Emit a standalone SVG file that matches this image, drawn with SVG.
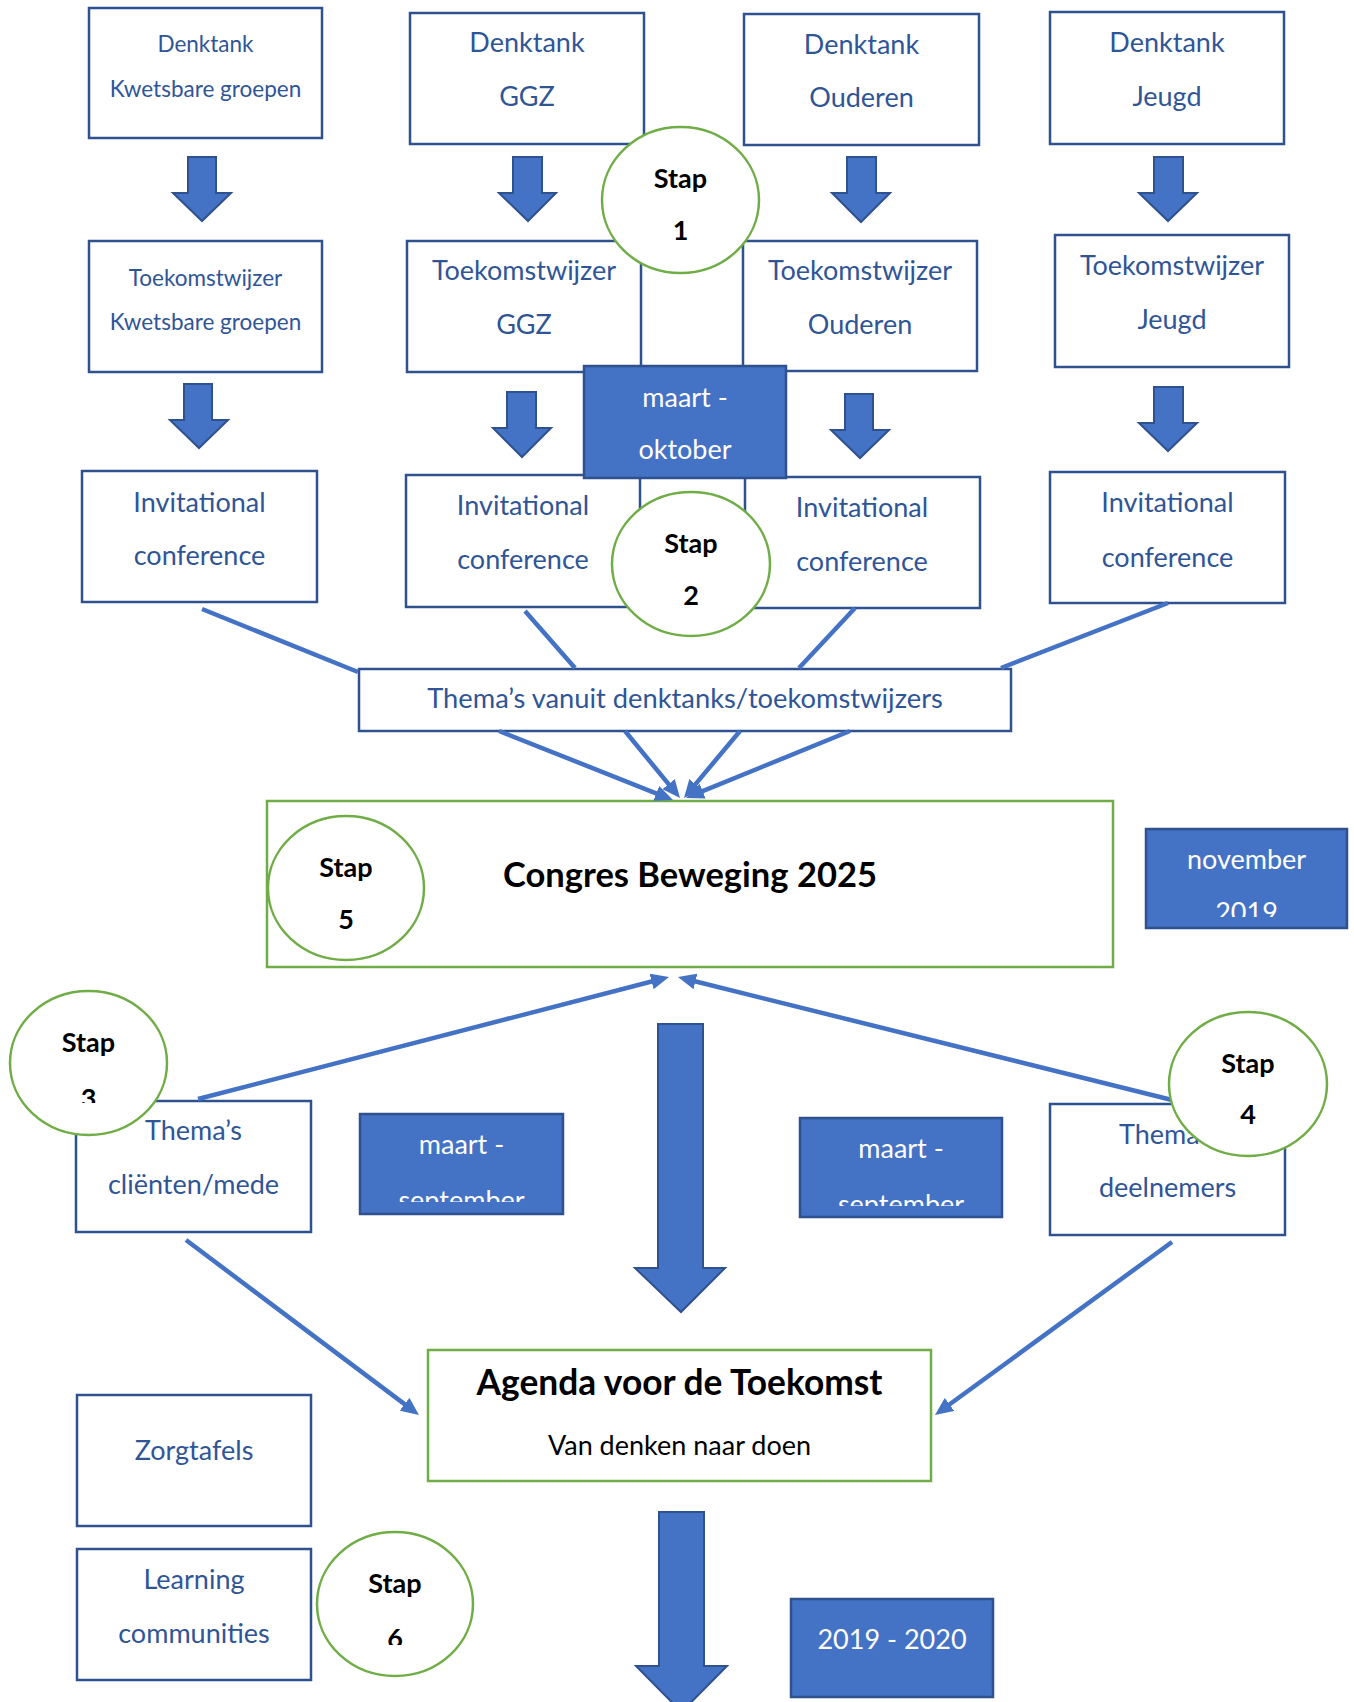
<svg xmlns="http://www.w3.org/2000/svg" width="1354" height="1702" viewBox="0 0 1354 1702">
<defs>
<style>
.box{fill:#fff;stroke:#2F528F;stroke-width:2.5}
.gbox{fill:#fff;stroke:#70AD47;stroke-width:2.5}
.date{fill:#4472C4;stroke:#2F528F;stroke-width:2.5}
.stap{fill:#fff;stroke:#70AD47;stroke-width:2.5}
.blk{fill:#4472C4;stroke:#2F528F;stroke-width:2}
.ln{stroke:#4472C4;stroke-width:4.5;fill:none}
.ar{marker-end:url(#ah)}
text{font-family:Lato,"Liberation Sans",sans-serif;text-anchor:middle}
.t{fill:#2F5597;font-size:27px}
.ts{fill:#2F5597;font-size:22.5px}
.tw{fill:#fff;font-size:27px}
.tb{fill:#000;font-size:27px;font-weight:bold}
.tB{fill:#000;font-size:34.5px;font-weight:bold}
.tk{fill:#000;font-size:27px}
</style>
<marker id="ah" markerUnits="userSpaceOnUse" markerWidth="18" markerHeight="16" refX="12" refY="8" orient="auto"><path d="M0,0 L18,8 L0,16 z" fill="#4472C4"/></marker>
<clipPath id="cNov"><rect x="1146" y="829" width="201" height="88"/></clipPath>
<clipPath id="cSepL"><rect x="360" y="1114" width="203" height="88"/></clipPath>
<clipPath id="cSepR"><rect x="800" y="1118" width="202" height="88"/></clipPath>
<clipPath id="c3"><rect x="9" y="990" width="160" height="113"/></clipPath>
<clipPath id="c6"><rect x="316" y="1530" width="160" height="115"/></clipPath>
</defs>

<g id="denktank-kwetsbaar"><rect class="box" x="89" y="8" width="233" height="130"/><text class="ts" x="205.5" y="52">Denktank</text><text class="ts" x="205.5" y="97">Kwetsbare groepen</text></g>
<g id="denktank-ggz"><rect class="box" x="410" y="13" width="234" height="131"/><text class="t" x="527" y="52">Denktank</text><text class="t" x="527" y="106">GGZ</text></g>
<g id="denktank-ouderen"><rect class="box" x="744" y="14" width="235" height="131"/><text class="t" x="861.5" y="54">Denktank</text><text class="t" x="861.5" y="107">Ouderen</text></g>
<g id="denktank-jeugd"><rect class="box" x="1050" y="12" width="234" height="132"/><text class="t" x="1167" y="52">Denktank</text><text class="t" x="1167" y="106">Jeugd</text></g>

<g id="toekomst-kwetsbaar"><rect class="box" x="89" y="241" width="233" height="131"/><text class="ts" x="205.5" y="286">Toekomstwijzer</text><text class="ts" x="205.5" y="330">Kwetsbare groepen</text></g>
<g id="toekomst-ggz"><rect class="box" x="407" y="241" width="234" height="131"/><text class="t" x="524" y="280">Toekomstwijzer</text><text class="t" x="524" y="334">GGZ</text></g>
<g id="toekomst-ouderen"><rect class="box" x="743" y="241" width="234" height="130"/><text class="t" x="860" y="280">Toekomstwijzer</text><text class="t" x="860" y="334">Ouderen</text></g>
<g id="toekomst-jeugd"><rect class="box" x="1055" y="235" width="234" height="132"/><text class="t" x="1172" y="275">Toekomstwijzer</text><text class="t" x="1172" y="329">Jeugd</text></g>

<g id="invitational-kwetsbaar"><rect class="box" x="82" y="471" width="235" height="131"/><text class="t" x="199.5" y="512">Invitational</text><text class="t" x="199.5" y="565">conference</text></g>
<g id="invitational-ggz"><rect class="box" x="406" y="475" width="234" height="132"/><text class="t" x="523" y="515">Invitational</text><text class="t" x="523" y="569">conference</text></g>
<g id="invitational-ouderen"><rect class="box" x="745" y="477" width="235" height="131"/><text class="t" x="862" y="517">Invitational</text><text class="t" x="862" y="571">conference</text></g>
<g id="invitational-jeugd"><rect class="box" x="1050" y="472" width="235" height="131"/><text class="t" x="1167.5" y="512">Invitational</text><text class="t" x="1167.5" y="567">conference</text></g>

<g id="themas-vanuit"><rect class="box" x="359" y="669" width="652" height="62"/><text class="t" x="685" y="708" style="font-size:27.3px">Thema’s vanuit denktanks/toekomstwijzers</text></g>

<g id="congres"><rect class="gbox" x="267" y="801" width="846" height="166"/><text class="tB" x="690" y="887">Congres Beweging 2025</text></g>

<g id="themas-clienten"><rect class="box" x="76" y="1101" width="235" height="131"/><text class="t" x="193.5" y="1140">Thema’s</text><text class="t" x="193.5" y="1194">cliënten/mede</text></g>
<g id="themas-deelnemers"><rect class="box" x="1050" y="1104" width="235" height="131"/><text class="t" x="1167.5" y="1144">Thema’s</text><text class="t" x="1167.5" y="1197">deelnemers</text></g>

<g id="agenda"><rect class="gbox" x="428" y="1350" width="503" height="131"/><text class="tB" x="679.5" y="1395" style="font-size:35.3px">Agenda voor de Toekomst</text><text class="tk" x="679.5" y="1455">Van denken naar doen</text></g>

<g id="zorgtafels"><rect class="box" x="77" y="1395" width="234" height="131"/><text class="t" x="194" y="1460">Zorgtafels</text></g>
<g id="learning"><rect class="box" x="77" y="1549" width="234" height="131"/><text class="t" x="194" y="1589">Learning</text><text class="t" x="194" y="1643">communities</text></g>

<g id="connectors">
<polygon class="blk" points="188,157 216,157 216,193 231,193 202,221 173,193 188,193"/>
<polygon class="blk" points="513,157 542,157 542,193 556,193 528,221 499,193 513,193"/>
<polygon class="blk" points="847,157 876,157 876,193 890,193 861,222 832,193 847,193"/>
<polygon class="blk" points="1154,157 1183,157 1183,193 1197,193 1168,221 1139,193 1154,193"/>
<polygon class="blk" points="184,384 212,384 212,420 228,420 199,448 170,420 184,420"/>
<polygon class="blk" points="507,392 536,392 536,428 551,428 522,457 493,428 507,428"/>
<polygon class="blk" points="845,394 873,394 873,430 889,430 860,458 831,430 845,430"/>
<polygon class="blk" points="1154,387 1183,387 1183,423 1197,423 1168,451 1139,423 1154,423"/>
<polygon class="blk" points="658,1024 703,1024 703,1268 725,1268 681,1312 635,1268 658,1268"/>
<polygon class="blk" points="659,1512 704,1512 704,1666 727,1666 681.5,1712 636,1666 659,1666"/>
<line class="ln" x1="202" y1="609" x2="358" y2="672"/>
<line class="ln" x1="525" y1="611" x2="575" y2="668"/>
<line class="ln" x1="855" y1="608" x2="799" y2="668"/>
<line class="ln" x1="1168" y1="603" x2="1001" y2="668"/>
<line class="ln ar" x1="499" y1="731" x2="667.4" y2="797.8"/>
<line class="ln ar" x1="625" y1="731" x2="676.2" y2="793.4"/>
<line class="ln ar" x1="740" y1="731" x2="687.8" y2="793.4"/>
<line class="ln ar" x1="850" y1="731" x2="691.6" y2="795.7"/>
<line class="ln ar" x1="198" y1="1099" x2="663.2" y2="978.5"/>
<line class="ln ar" x1="1172" y1="1100" x2="683.8" y2="978.5"/>
<line class="ln ar" x1="186" y1="1240" x2="414.2" y2="1411.4"/>
<line class="ln ar" x1="1172" y1="1242" x2="939.8" y2="1411.5"/>
</g>

<g id="date-maart-oktober"><rect class="date" x="584" y="366" width="202" height="112"/><text class="tw" x="685" y="407">maart -</text><text class="tw" x="685" y="459">oktober</text></g>
<g id="date-november"><rect class="date" x="1146" y="829" width="201" height="99"/><g clip-path="url(#cNov)"><text class="tw" x="1246.5" y="869">november</text><text class="tw" x="1246.5" y="922">2019</text></g></g>
<g id="date-maart-sept-l"><rect class="date" x="360" y="1114" width="203" height="100"/><g clip-path="url(#cSepL)"><text class="tw" x="461.5" y="1154">maart -</text><text class="tw" x="461.5" y="1210">september</text></g></g>
<g id="date-maart-sept-r"><rect class="date" x="800" y="1118" width="202" height="99"/><g clip-path="url(#cSepR)"><text class="tw" x="901" y="1158">maart -</text><text class="tw" x="901" y="1214">september</text></g></g>
<g id="date-2019-2020"><rect class="date" x="791" y="1599" width="202" height="98"/><text class="tw" x="892" y="1649">2019 - 2020</text></g>

<g id="stap1"><ellipse class="stap" cx="680.5" cy="200" rx="78.5" ry="73"/><text class="tb" x="680.5" y="188">Stap</text><text class="tb" x="680.5" y="240">1</text></g>
<g id="stap2"><ellipse class="stap" cx="691" cy="564" rx="79" ry="72"/><text class="tb" x="691" y="553">Stap</text><text class="tb" x="691" y="605">2</text></g>
<g id="stap5"><ellipse class="stap" cx="346" cy="888" rx="78" ry="72"/><text class="tb" x="346" y="877">Stap</text><text class="tb" x="346" y="929">5</text></g>
<g id="stap3"><ellipse class="stap" cx="88.5" cy="1063" rx="78.5" ry="72"/><text class="tb" x="88.5" y="1052">Stap</text><g clip-path="url(#c3)"><text class="tb" x="88.5" y="1108">3</text></g></g>
<g id="stap4"><ellipse class="stap" cx="1248" cy="1084" rx="79" ry="72"/><text class="tb" x="1248" y="1073">Stap</text><text class="tb" x="1248" y="1124">4</text></g>
<g id="stap6"><ellipse class="stap" cx="395" cy="1604" rx="78" ry="72"/><text class="tb" x="395" y="1593">Stap</text><g clip-path="url(#c6)"><text class="tb" x="395" y="1648">6</text></g></g>
</svg>
